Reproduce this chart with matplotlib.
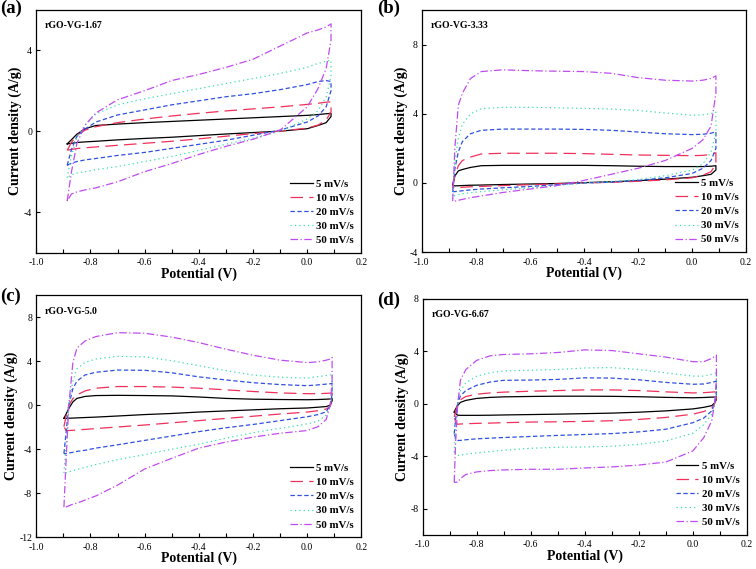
import numpy as np
import matplotlib.pyplot as plt
from matplotlib.ticker import MultipleLocator, FormatStrFormatter

plt.rcParams['font.family'] = ['Liberation Serif', 'DejaVu Serif']
plt.rcParams['axes.unicode_minus'] = False

# scan rates and styles
rates = ['5 mV/s', '10 mV/s', '20 mV/s', '30 mV/s', '50 mV/s']
colors = ['black', '#f0305c', '#3050e0', '#38e0a8', '#c04cf0']
dashes = [(), (10, 5), (3.5, 2), (1, 2.5), (6, 2, 1, 2)]

samples = ['rGO-VG-1.67', 'rGO-VG-3.33', 'rGO-VG-5.0', 'rGO-VG-6.67']
panel_tags = ['(a)', '(b)', '(c)', '(d)']

# ---- (a) rGO-VG-1.67 : potential grid, anodic (up) and cathodic (dn) branch ----
V_a = [-0.886, -0.87, -0.85, -0.82, -0.78, -0.7, -0.6, -0.5, -0.4, -0.3, -0.2, -0.1, 0.0, 0.04, 0.07, 0.088]
a_up_5 = [-0.63, -0.42, -0.15, 0.12, 0.28, 0.35, 0.42, 0.48, 0.54, 0.6, 0.66, 0.72, 0.78, 0.82, 0.86, 0.88]
a_dn_5 = [-0.63, -0.6, -0.56, -0.53, -0.5, -0.43, -0.36, -0.3, -0.22, -0.14, -0.07, 0.0, 0.12, 0.28, 0.42, 0.72]
a_up_10 = [-0.95, -0.55, -0.2, 0.05, 0.22, 0.42, 0.6, 0.75, 0.88, 1.0, 1.1, 1.2, 1.32, 1.38, 1.43, 1.45]
a_dn_10 = [-0.95, -0.9, -0.86, -0.82, -0.78, -0.7, -0.6, -0.5, -0.38, -0.25, -0.12, 0.0, 0.15, 0.3, 0.55, 0.95]
a_up_20 = [-1.69, -0.9, -0.25, 0.1, 0.45, 0.8, 1.05, 1.3, 1.5, 1.7, 1.85, 2.05, 2.3, 2.45, 2.5, 2.45]
a_dn_20 = [-1.69, -1.58, -1.5, -1.42, -1.35, -1.2, -1.05, -0.85, -0.65, -0.45, -0.2, 0.05, 0.45, 0.75, 1.2, 2.0]
a_up_30 = [-2.3, -1.2, -0.3, 0.3, 0.85, 1.3, 1.6, 1.85, 2.1, 2.35, 2.6, 2.85, 3.15, 3.35, 3.45, 3.5]
a_dn_30 = [-2.3, -2.15, -2.07, -2.0, -1.9, -1.75, -1.5, -1.25, -0.95, -0.65, -0.35, 0.0, 0.6, 1.0, 1.7, 2.7]
a_up_50 = [-3.45, -2.0, -0.6, 0.3, 0.9, 1.55, 2.0, 2.5, 2.8, 3.15, 3.55, 4.2, 4.85, 5.0, 5.15, 5.3]
a_dn_50 = [-3.45, -3.1, -3.0, -2.9, -2.8, -2.5, -2.0, -1.6, -1.15, -0.75, -0.4, 0.05, 1.2, 2.1, 3.1, 4.5]

# ---- (b) rGO-VG-3.33 ----
V_b = [-0.886, -0.878, -0.865, -0.85, -0.82, -0.78, -0.7, -0.6, -0.5, -0.4, -0.3, -0.2, -0.1, 0.0, 0.04, 0.07, 0.088]
b_up_5 = [-0.1, 0.4, 0.7, 0.78, 0.9, 1.0, 1.02, 1.02, 1.02, 1.02, 1.0, 0.97, 0.95, 0.95, 0.95, 0.97, 1.0]
b_dn_5 = [-0.1, -0.17, -0.16, -0.15, -0.13, -0.12, -0.09, -0.06, -0.03, 0.02, 0.07, 0.13, 0.22, 0.33, 0.42, 0.5, 0.75]
b_up_10 = [-0.25, 0.4, 1.0, 1.3, 1.5, 1.68, 1.72, 1.72, 1.72, 1.7, 1.66, 1.62, 1.6, 1.58, 1.6, 1.65, 1.75]
b_dn_10 = [-0.25, -0.29, -0.27, -0.25, -0.22, -0.2, -0.15, -0.1, -0.05, 0.0, 0.04, 0.1, 0.18, 0.3, 0.45, 0.65, 1.1]
b_up_20 = [-0.5, 0.8, 1.8, 2.4, 2.85, 3.05, 3.12, 3.12, 3.12, 3.1, 3.05, 2.95, 2.85, 2.8, 2.82, 2.88, 2.97]
b_dn_20 = [-0.5, -0.5, -0.48, -0.45, -0.4, -0.35, -0.28, -0.2, -0.1, 0.0, 0.05, 0.15, 0.3, 0.55, 0.85, 1.3, 2.0]
b_up_30 = [-0.75, 1.2, 2.6, 3.4, 4.0, 4.3, 4.38, 4.38, 4.35, 4.32, 4.28, 4.2, 4.05, 3.92, 3.95, 4.02, 4.1]
b_dn_30 = [-0.75, -0.73, -0.68, -0.62, -0.56, -0.5, -0.4, -0.28, -0.15, 0.0, 0.08, 0.2, 0.42, 0.75, 1.1, 1.8, 2.9]
b_up_50 = [-1.05, 2.0, 4.5, 5.2, 6.05, 6.45, 6.55, 6.5, 6.47, 6.45, 6.35, 6.1, 5.95, 5.9, 5.95, 6.05, 6.2]
b_dn_50 = [-1.05, -1.05, -1.0, -0.95, -0.85, -0.75, -0.55, -0.35, -0.15, 0.15, 0.5, 0.85, 1.3, 2.0, 2.5, 3.3, 5.2]

# ---- (c) rGO-VG-5.0 ----
V_c = [-0.898, -0.89, -0.88, -0.865, -0.85, -0.82, -0.78, -0.7, -0.6, -0.5, -0.4, -0.3, -0.2, -0.1, 0.0, 0.04, 0.07, 0.085, 0.092]
c_up_5 = [-1.19, -0.8, -0.3, 0.3, 0.62, 0.8, 0.88, 0.9, 0.88, 0.85, 0.75, 0.62, 0.55, 0.52, 0.5, 0.52, 0.55, 0.57, 0.62]
c_dn_5 = [-1.19, -1.2, -1.18, -1.17, -1.15, -1.12, -1.08, -0.98, -0.85, -0.75, -0.62, -0.52, -0.42, -0.32, -0.25, -0.18, -0.12, 0.0, 0.4]
c_up_10 = [-1.95, -1.0, 0.0, 0.6, 0.95, 1.3, 1.55, 1.7, 1.7, 1.65, 1.55, 1.4, 1.25, 1.12, 1.05, 1.05, 1.08, 1.1, 1.12]
c_dn_10 = [-1.95, -2.3, -2.3, -2.28, -2.25, -2.2, -2.12, -1.98, -1.8, -1.6, -1.4, -1.2, -1.0, -0.8, -0.62, -0.5, -0.35, -0.1, 0.6]
c_up_20 = [-4.4, -2.5, 0.0, 1.5, 2.2, 2.75, 3.0, 3.2, 3.18, 2.95, 2.58, 2.3, 2.05, 1.88, 1.78, 1.85, 1.92, 1.95, 2.0]
c_dn_20 = [-4.4, -4.4, -4.35, -4.28, -4.2, -4.1, -3.9, -3.6, -3.2, -2.8, -2.4, -2.05, -1.75, -1.4, -1.05, -0.85, -0.6, 0.0, 1.0]
c_up_30 = [-6.17, -3.5, 0.0, 2.2, 3.3, 3.9, 4.2, 4.45, 4.4, 4.05, 3.6, 3.15, 2.75, 2.55, 2.47, 2.6, 2.7, 2.75, 2.8]
c_dn_30 = [-6.17, -6.15, -6.05, -5.95, -5.85, -5.65, -5.4, -4.95, -4.5, -4.0, -3.55, -3.0, -2.5, -2.1, -1.7, -1.45, -0.9, 0.0, 1.4]
c_up_50 = [-9.28, -5.0, 0.0, 3.85, 5.2, 5.85, 6.25, 6.6, 6.55, 6.2, 5.7, 5.1, 4.55, 4.1, 3.88, 3.95, 4.1, 4.2, 4.35]
c_dn_50 = [-9.28, -9.25, -9.15, -9.0, -8.9, -8.63, -8.25, -7.27, -5.8, -4.83, -3.9, -3.35, -2.9, -2.55, -2.3, -1.95, -1.3, 0.0, 2.3]

# ---- (d) rGO-VG-6.67 ----
V_d = [-0.883, -0.878, -0.87, -0.86, -0.84, -0.8, -0.75, -0.7, -0.6, -0.5, -0.4, -0.3, -0.2, -0.1, 0.0, 0.04, 0.07, 0.08, 0.087]
d_up_5 = [-0.64, -0.4, -0.13, 0.1, 0.25, 0.4, 0.48, 0.52, 0.55, 0.57, 0.57, 0.56, 0.53, 0.48, 0.45, 0.47, 0.5, 0.5, 0.52]
d_dn_5 = [-0.64, -0.75, -0.88, -0.89, -0.89, -0.89, -0.88, -0.86, -0.83, -0.8, -0.76, -0.72, -0.65, -0.55, -0.4, -0.28, -0.15, 0.05, 0.3]
d_up_10 = [-1.02, -0.6, 0.0, 0.3, 0.55, 0.72, 0.82, 0.88, 0.95, 1.0, 1.05, 1.05, 1.0, 0.9, 0.82, 0.84, 0.88, 0.9, 0.92]
d_dn_10 = [-1.02, -1.4, -1.57, -1.55, -1.53, -1.5, -1.48, -1.45, -1.4, -1.38, -1.35, -1.3, -1.2, -1.05, -0.8, -0.6, -0.35, 0.0, 0.4]
d_up_20 = [-2.29, -1.2, 0.0, 0.6, 1.0, 1.4, 1.65, 1.78, 1.8, 1.85, 1.97, 1.95, 1.82, 1.62, 1.48, 1.5, 1.62, 1.68, 1.73]
d_dn_20 = [-2.29, -2.6, -2.8, -2.8, -2.75, -2.68, -2.63, -2.58, -2.5, -2.42, -2.35, -2.28, -2.15, -1.95, -1.45, -1.1, -0.55, 0.0, 0.7]
d_up_30 = [-3.7, -1.8, 0.0, 1.0, 1.6, 2.1, 2.35, 2.5, 2.55, 2.6, 2.72, 2.75, 2.6, 2.35, 2.1, 2.1, 2.25, 2.3, 2.35]
d_dn_30 = [-3.7, -3.8, -3.95, -3.92, -3.85, -3.75, -3.65, -3.55, -3.4, -3.32, -3.3, -3.25, -3.1, -2.85, -2.25, -1.6, -0.8, 0.0, 1.0]
d_up_50 = [-5.99, -3.0, 0.0, 1.8, 2.6, 3.3, 3.65, 3.75, 3.8, 3.9, 4.1, 4.05, 3.8, 3.55, 3.2, 3.2, 3.45, 3.6, 3.7]
d_dn_50 = [-5.99, -5.99, -5.99, -5.7, -5.4, -5.2, -5.1, -5.05, -5.0, -5.0, -4.9, -4.82, -4.68, -4.45, -3.6, -2.6, -1.3, 0.0, 1.8]

# axis ranges / ticks per panel
ylims = [(-6, 6), (-4, 10), (-12, 10), (-10, 8)]
yticks = [[-4, 0, 4], [-4, 0, 4, 8], [-12, -8, -4, 0, 4, 8], [-8, -4, 0, 4, 8]]

panels = [
    (V_a, [(a_up_5, a_dn_5), (a_up_10, a_dn_10), (a_up_20, a_dn_20), (a_up_30, a_dn_30), (a_up_50, a_dn_50)]),
    (V_b, [(b_up_5, b_dn_5), (b_up_10, b_dn_10), (b_up_20, b_dn_20), (b_up_30, b_dn_30), (b_up_50, b_dn_50)]),
    (V_c, [(c_up_5, c_dn_5), (c_up_10, c_dn_10), (c_up_20, c_dn_20), (c_up_30, c_dn_30), (c_up_50, c_dn_50)]),
    (V_d, [(d_up_5, d_dn_5), (d_up_10, d_dn_10), (d_up_20, d_dn_20), (d_up_30, d_dn_30), (d_up_50, d_dn_50)]),
]

# axes boxes [left, bottom, width, height] in figure fraction
boxes = [
    [0.048, 0.556, 0.430, 0.427],
    [0.558, 0.557, 0.429, 0.425],
    [0.048, 0.056, 0.430, 0.425],
    [0.559, 0.060, 0.429, 0.415],
]
tag_pos = [(0.0, 1.0), (0.499, 1.0), (0.0, 0.495), (0.499, 0.487)]

fig = plt.figure(figsize=(7.56, 5.69), dpi=100)

for k in range(4):
    ax = fig.add_axes(boxes[k])
    V, loops = panels[k]
    for (up, dn), lab, col, ds in zip(loops, rates, colors, dashes):
        x = list(V) + list(V[::-1]) + [V[0]]
        y = list(up) + list(dn[::-1]) + [up[0]]
        line, = ax.plot(x, y, color=col, lw=0.9, label=lab)
        if ds:
            line.set_dashes(ds)

    ax.set_xlim(-1.0, 0.2)
    ax.set_ylim(*ylims[k])
    ax.set_yticks(yticks[k])
    ax.xaxis.set_major_locator(MultipleLocator(0.2))
    ax.xaxis.set_minor_locator(MultipleLocator(0.1))
    ax.xaxis.set_major_formatter(FormatStrFormatter('%.1f'))
    ax.tick_params(direction='in', length=3, width=0.8, labelsize=7)
    ax.tick_params(axis='x', pad=4)
    ax.tick_params(axis='y', pad=3)
    ax.tick_params(which='minor', direction='in', length=3, width=0.8)
    for s in ax.spines.values():
        s.set_linewidth(0.9)

    ax.set_xlabel('Potential (V)', fontsize=10, fontweight='bold', labelpad=0)
    ax.set_ylabel('Current density (A/g)', fontsize=10, fontweight='bold', labelpad=1)

    ax.text(0.027, 0.935, samples[k], transform=ax.transAxes, fontsize=7,
            fontweight='bold', va='center', ha='left')

    ax.legend(loc='lower right', frameon=False, prop={'size': 7.8, 'weight': 'bold'},
              handlelength=2.1, handletextpad=0.3, labelspacing=0.42,
              borderaxespad=0.3)

    fig.text(tag_pos[k][0], tag_pos[k][1], panel_tags[k], fontsize=13.5,
             fontweight='bold', ha='left', va='top')

fig.savefig('out.png', dpi=100)
